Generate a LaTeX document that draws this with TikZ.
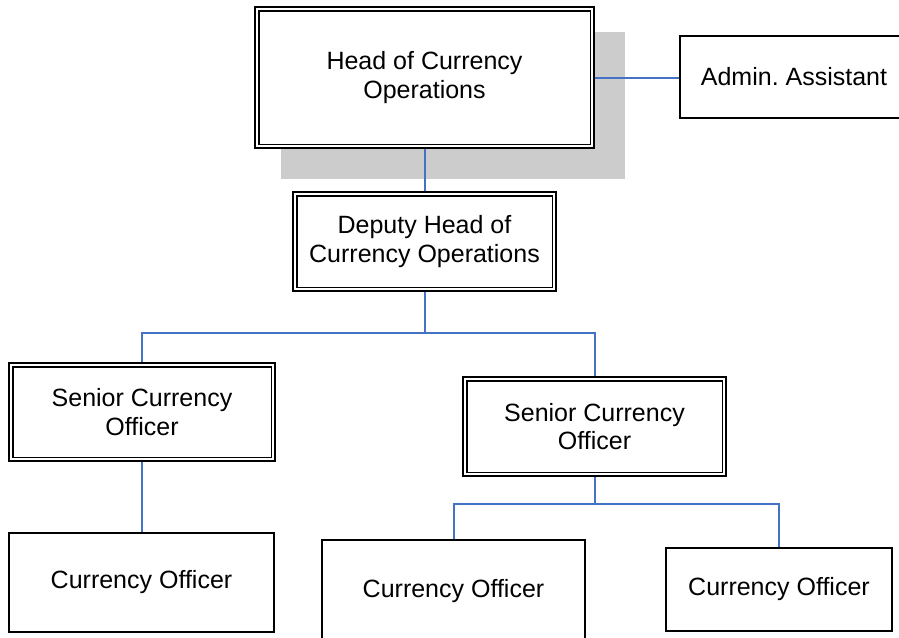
\documentclass[tikz,border=0pt]{standalone}
\usepackage{fontspec}
\setmainfont{Liberation Sans}
\pgfdeclarelayer{shade}
\pgfdeclarelayer{links}
\pgfsetlayers{shade,links,main}
\definecolor{linkblue}{HTML}{4472C4}
\definecolor{shadowgray}{HTML}{CCCCCC}
\frenchspacing

% thin inner line of a double-framed box
\newcommand{\innerframe}[1]{%
  \draw[line width=1.5pt] ([shift={(5,5)}]#1.north west) rectangle ([shift={(-5,-5)}]#1.south east);}

\begin{document}
\begin{tikzpicture}[x=1pt,y=-1pt,
  box/.style={draw=black, fill=white, line width=2pt, inner sep=0pt, align=center,
              font=\fontsize{25}{28.5}\selectfont},
  dbox/.style={box, line width=2.5pt},
  link/.style={draw=linkblue, line width=2pt}]

\useasboundingbox (0,0) rectangle (899,637);

% boxes
\node[dbox, minimum width=339pt, minimum height=141pt] (head) at (424.5,77.5) {Head of Currency\\Operations};
\innerframe{head}
\node[box, minimum width=228pt, minimum height=82pt] (admin) at (794,77) {Admin.\ Assistant};
\node[dbox, minimum width=263pt, minimum height=99pt] (dep) at (424.5,241.5) {Deputy Head of\\Currency Operations};
\innerframe{dep}
\node[dbox, minimum width=266pt, minimum height=98pt] (s1) at (142,412) {Senior Currency\\Officer};
\innerframe{s1}
\node[dbox, minimum width=263pt, minimum height=99pt] (s2) at (594.5,426.5) {Senior Currency\\Officer};
\innerframe{s2}
\node[box, minimum width=265pt, minimum height=99pt] (co1) at (141.5,582.5) {Currency Officer};
\node[box, minimum width=263pt, minimum height=102pt] (co2) at (453.5,591) {Currency Officer};
\node[box, minimum width=226pt, minimum height=83pt] (co3) at (779,589.5) {Currency Officer};

% drop shadow behind the head box
\begin{pgfonlayer}{shade}
  \fill[shadowgray] ([shift={(27,26)}]head.north west) rectangle ([shift={(30,30)}]head.south east);
\end{pgfonlayer}

% reporting lines
\begin{pgfonlayer}{links}
  \coordinate (bus1) at (424.5,333);
  \coordinate (bus2) at (594.5,504);
  \draw[link] (head.east) -- (admin.west |- head.east);
  \draw[link] (head.south) -- (dep.north);
  \draw[link] (dep.south) -- (bus1) -| (s1.north);
  \draw[link] (bus1) -| (s2.north);
  \draw[link] (s1.south) -- (s1.south |- co1.north);
  \draw[link] (s2.south) -- (bus2) -| (co2.north);
  \draw[link] (bus2) -| (co3.north);
\end{pgfonlayer}
\end{tikzpicture}
\end{document}
